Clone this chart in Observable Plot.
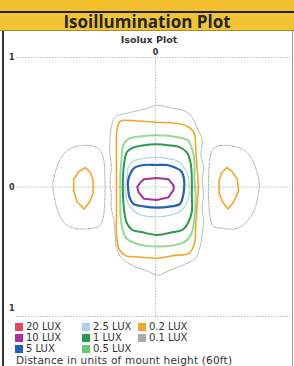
<!DOCTYPE html>
<html><head><meta charset="utf-8">
<script src="https://cdn.jsdelivr.net/npm/d3@7"></script>
<script src="https://cdn.jsdelivr.net/npm/@observablehq/plot@0.6"></script>
<style>
body{margin:0;width:294px;height:366px;overflow:hidden;background:#fff;position:relative;font-family:"DejaVu Sans",sans-serif;}
#band{position:absolute;left:0;top:0;width:294px;height:11px;background:#f1bf2c;border-bottom:2px solid #222;}
#title{position:absolute;left:0;top:13px;width:294px;height:17px;background:#f3c336;border-bottom:1px solid #a88a20;text-align:center;font-family:"Open Sans",sans-serif;font-weight:bold;font-size:17px;line-height:17px;color:#262626;}
#panel{position:absolute;left:2px;top:31px;width:288px;height:340px;border-left:2px solid #333;border-right:1px solid #999;background:#fff;}
#sub{position:absolute;left:0;top:34px;width:298px;text-align:center;font-weight:bold;font-size:9.5px;color:#333;}
#chart{position:absolute;left:0;top:44px;}
.leg{position:absolute;font-size:10px;color:#333;line-height:11px;white-space:nowrap;}
.sw{display:inline-block;width:8px;height:8px;margin-right:3px;vertical-align:-1px;}
#cap{position:absolute;left:16px;top:354px;font-size:10.5px;letter-spacing:0.2px;color:#333;white-space:nowrap;}
</style></head><body>
<div id="band"></div>
<div id="title">Isoillumination Plot</div>
<div id="panel"></div>
<div id="sub">Isolux Plot</div>
<div id="chart"></div>
<div id="legend"></div>
<div id="cap">Distance in units of mount height (60ft)</div>
<script>
// tick values / labels
const xTicks = [0];
const xTickLabels = ["0"];
const yTicks = [1, 0, -1];
const yTickLabels = ["1", "0", "1"];
const gridY = [1, 0, -1];
const gridX = [0];

// legend
const legendLabels = ["20 LUX", "10 LUX", "5 LUX", "2.5 LUX", "1 LUX", "0.5 LUX", "0.2 LUX", "0.1 LUX"];
const legendColors = ["#e8475c", "#a8309e", "#2160b8", "#a9d1e8", "#2a9a4c", "#6cc86c", "#f4a62a", "#aaaaaa"];

// contour polylines (units of mount height)
const lux01Center = [[0.01,0.63],[-0.09,0.60],[-0.22,0.57],[-0.31,0.54],[-0.34,0.46],[-0.35,0.36],[-0.35,0.25],[-0.34,0.15],[-0.35,0.05],[-0.34,-0.06],[-0.34,-0.16],[-0.32,-0.26],[-0.31,-0.37],[-0.30,-0.47],[-0.26,-0.55],[-0.17,-0.61],[-0.06,-0.65],[0.01,-0.68],[0.12,-0.64],[0.22,-0.60],[0.31,-0.55],[0.34,-0.47],[0.36,-0.37],[0.37,-0.26],[0.36,-0.16],[0.37,-0.06],[0.36,0.05],[0.37,0.15],[0.35,0.25],[0.36,0.36],[0.32,0.46],[0.28,0.54],[0.22,0.59],[0.12,0.61]];
const lux01Left = [[-0.62,0.31],[-0.50,0.32],[-0.43,0.29],[-0.40,0.22],[-0.39,0.09],[-0.39,-0.11],[-0.40,-0.22],[-0.43,-0.30],[-0.50,-0.32],[-0.62,-0.32],[-0.70,-0.28],[-0.75,-0.19],[-0.78,-0.07],[-0.79,0.02],[-0.77,0.12],[-0.73,0.22],[-0.68,0.28]];
const lux01Right = [[0.62,0.31],[0.50,0.32],[0.44,0.29],[0.42,0.22],[0.41,0.09],[0.41,-0.11],[0.42,-0.22],[0.44,-0.30],[0.52,-0.32],[0.63,-0.32],[0.70,-0.27],[0.76,-0.18],[0.79,-0.07],[0.80,0.02],[0.78,0.12],[0.74,0.22],[0.69,0.28]];
const lux02Center = [[-0.27,0.51],[-0.14,0.51],[0.01,0.50],[0.17,0.49],[0.26,0.46],[0.30,0.41],[0.31,0.30],[0.32,0.15],[0.33,0.00],[0.32,-0.16],[0.31,-0.31],[0.30,-0.44],[0.26,-0.51],[0.14,-0.53],[0.01,-0.55],[-0.12,-0.54],[-0.23,-0.53],[-0.28,-0.48],[-0.30,-0.37],[-0.30,-0.21],[-0.30,-0.06],[-0.30,0.10],[-0.30,0.25],[-0.30,0.41],[-0.29,0.47]];
const lux02Left = [[-0.54,0.15],[-0.50,0.11],[-0.48,0.05],[-0.48,-0.05],[-0.51,-0.12],[-0.55,-0.17],[-0.60,-0.12],[-0.63,-0.03],[-0.63,0.06],[-0.59,0.12]];
const lux02Right = [[0.55,0.15],[0.51,0.11],[0.49,0.05],[0.49,-0.05],[0.52,-0.12],[0.56,-0.17],[0.60,-0.12],[0.64,-0.03],[0.63,0.06],[0.59,0.12]];
const lux05 = [[0.01,0.40],[-0.12,0.39],[-0.21,0.37],[-0.25,0.32],[-0.26,0.23],[-0.27,0.10],[-0.27,-0.06],[-0.27,-0.21],[-0.25,-0.34],[-0.22,-0.40],[-0.14,-0.44],[0.01,-0.46],[0.14,-0.45],[0.23,-0.42],[0.28,-0.35],[0.30,-0.24],[0.31,-0.08],[0.30,0.07],[0.30,0.21],[0.28,0.30],[0.25,0.36],[0.14,0.39]];
const lux1 = [[0.01,0.33],[-0.10,0.32],[-0.18,0.30],[-0.22,0.27],[-0.24,0.19],[-0.25,0.07],[-0.25,-0.06],[-0.24,-0.19],[-0.22,-0.28],[-0.18,-0.33],[-0.10,-0.35],[0.01,-0.37],[0.13,-0.35],[0.21,-0.33],[0.25,-0.28],[0.28,-0.19],[0.28,-0.06],[0.28,0.07],[0.27,0.19],[0.24,0.27],[0.18,0.31],[0.12,0.32]];
const lux25 = [[0.01,0.23],[-0.09,0.22],[-0.17,0.20],[-0.21,0.15],[-0.22,0.07],[-0.23,0.00],[-0.22,-0.10],[-0.19,-0.16],[-0.13,-0.21],[0.01,-0.23],[0.14,-0.21],[0.21,-0.17],[0.25,-0.10],[0.26,0.00],[0.25,0.09],[0.22,0.15],[0.17,0.20],[0.09,0.22]];
const lux5 = [[0.01,0.17],[-0.09,0.17],[-0.16,0.15],[-0.19,0.11],[-0.21,0.05],[-0.21,-0.02],[-0.20,-0.08],[-0.17,-0.13],[-0.09,-0.15],[0.01,-0.16],[0.12,-0.15],[0.19,-0.13],[0.21,-0.08],[0.22,-0.02],[0.22,0.06],[0.20,0.12],[0.15,0.15],[0.09,0.17]];
const lux10 = [[0.01,0.07],[0.10,0.06],[0.14,0.01],[0.14,-0.02],[0.10,-0.08],[0.01,-0.10],[-0.09,-0.09],[-0.13,-0.04],[-0.14,0.00],[-0.12,0.03],[-0.09,0.06]];

const col = l => legendColors[legendLabels.indexOf(l)];
const contour = (data, label, opts) => Plot.line(data, Object.assign({
  x: d => d[0], y: d => d[1], stroke: col(label), curve: "linear-closed",
  strokeLinejoin: "round"
}, opts));

const yLab = new Map(yTicks.map((v, i) => [v, yTickLabels[i]]));
const xLab = new Map(xTicks.map((v, i) => [v, xTickLabels[i]]));

const chart = Plot.plot({
  width: 294, height: 280,
  marginTop: 13, marginBottom: 8, marginLeft: 16, marginRight: 4,
  x: {domain: [-1.07, 1.04], axis: null},
  y: {domain: [-1, 1], axis: null},
  style: {background: "transparent", fontFamily: "DejaVu Sans", fontSize: "8px", color: "#333", overflow: "visible"},
  marks: [
    Plot.ruleY(gridY, {stroke: "#bdbdbd", strokeDasharray: "1.5,1.5", strokeWidth: 1}),
    Plot.ruleX(gridX, {y1: -1, y2: 1, stroke: "#bdbdbd", strokeDasharray: "1.5,1.5", strokeWidth: 1}),
    Plot.axisX(xTicks, {anchor: "top", tickSize: 0, tickPadding: 3, label: null, tickFormat: d => xLab.get(d), fontWeight: "bold"}),
    Plot.axisY(yTicks.slice(0, 2), {anchor: "left", tickSize: 0, tickPadding: 2, label: null, tickFormat: d => yLab.get(d), fontWeight: "bold"}),
    Plot.axisY(yTicks.slice(2), {anchor: "left", tickSize: 0, tickPadding: 2, label: null, dy: -8, tickFormat: d => yLab.get(d), fontWeight: "bold"}),
    contour(lux01Center, "0.1 LUX", {strokeWidth: 1, strokeDasharray: "1.3,1.3", curve: "catmull-rom-closed"}),
    contour(lux01Left, "0.1 LUX", {strokeWidth: 1, strokeDasharray: "1.3,1.3", curve: "catmull-rom-closed"}),
    contour(lux01Right, "0.1 LUX", {strokeWidth: 1, strokeDasharray: "1.3,1.3", curve: "catmull-rom-closed"}),
    contour(lux02Center, "0.2 LUX", {strokeWidth: 1.6, curve: "catmull-rom-closed"}),
    contour(lux02Left, "0.2 LUX", {strokeWidth: 1.6}),
    contour(lux02Right, "0.2 LUX", {strokeWidth: 1.6}),
    contour(lux05, "0.5 LUX", {strokeWidth: 2, strokeOpacity: 0.7, curve: "catmull-rom-closed"}),
    contour(lux1, "1 LUX", {strokeWidth: 2, curve: "catmull-rom-closed"}),
    contour(lux25, "2.5 LUX", {strokeWidth: 1.2, strokeDasharray: "1.5,1", curve: "catmull-rom-closed"}),
    contour(lux5, "5 LUX", {strokeWidth: 2.2, curve: "catmull-rom-closed"}),
    contour(lux10, "10 LUX", {strokeWidth: 2})
  ]
});
document.getElementById("chart").appendChild(chart);

// legend (3 rows per column)
const colX = [15, 82, 138];
const rowY = [321, 332, 343];
const leg = document.getElementById("legend");
legendLabels.forEach((l, i) => {
  const d = document.createElement("div");
  d.className = "leg";
  d.style.left = colX[Math.floor(i / 3)] + "px";
  d.style.top = rowY[i % 3] + "px";
  d.innerHTML = `<span class="sw" style="background:${legendColors[i]}"></span>${l}`;
  leg.appendChild(d);
});
</script>
</body></html>
